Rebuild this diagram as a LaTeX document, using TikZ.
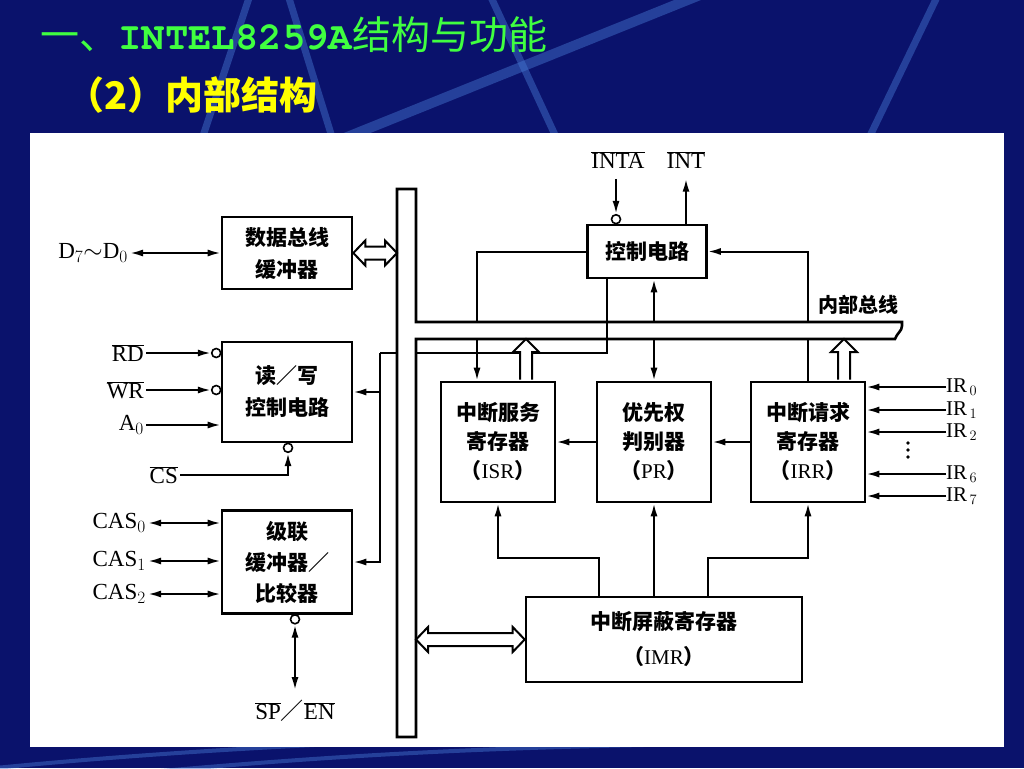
\documentclass[tikz,border=0pt]{standalone}
\usepackage{fontspec}
\setmainfont{Liberation Serif}
\newfontfamily\cjk{Noto Sans CJK SC}
\newfontfamily\mono{texgyrecursor-bold.otf}
\usepackage{xcolor}
\usetikzlibrary{arrows.meta,calc}
\definecolor{slidebg}{RGB}{10,18,108}
\definecolor{stripe}{RGB}{70,120,210}
\definecolor{titlegreen}{RGB}{64,255,64}
\definecolor{titleyellow}{RGB}{255,255,0}
\newcommand{\ovl}[1]{$\overline{\mbox{#1}}$}
% hollow double arrow between two points of one row
\newcommand{\hollowlr}[2]{%
  \draw[hollow] let \p1=(#1), \p2=(#2) in
    (\x1,\y1) -- (\x1+12pt,\y1+12.5pt) -- (\x1+12pt,\y1+6.5pt) -- (\x2-12pt,\y2+6.5pt)
    -- (\x2-12pt,\y2+12.5pt) -- (\x2,\y2) -- (\x2-12pt,\y2-12.5pt) -- (\x2-12pt,\y2-6.5pt)
    -- (\x1+12pt,\y1-6.5pt) -- (\x1+12pt,\y1-12.5pt) -- cycle;}
% hollow arrow from a base up to a tip
\newcommand{\hollowup}[2]{%
  \draw[hollow] let \p1=(#1), \p2=(#2) in
    (\x1-6pt,\y1) -- (\x1-6pt,\y2-13pt) -- (\x1-13pt,\y2-13pt) -- (\x2,\y2)
    -- (\x1+13pt,\y2-13pt) -- (\x1+6pt,\y2-13pt) -- (\x1+6pt,\y1);}

\begin{document}
\begin{tikzpicture}[x=1pt,y=-1pt,
    >={Latex[length=13pt,width=7pt]},
    blk/.style={draw,line width=2.6pt,inner sep=0pt,align=center,
      font={\cjk\bfseries\fontsize{21}{32}\selectfont}},
    lbl/.style={inner sep=2pt,font={\fontsize{23}{27}\selectfont}},
    sig/.style={line width=2pt},
    inv/.style={circle,draw,line width=1.6pt,fill=white,minimum size=9pt,inner sep=0pt},
    hollow/.style={draw,line width=2pt,fill=white,line join=miter},
    bus/.style={line width=2.6pt},
    streak/.style={draw=stripe,line width=7pt,opacity=0.45}]
    \useasboundingbox (0,0) rectangle (1024,768);
    % slide
    \fill[slidebg] (0,0) rectangle (1024,768);
    \draw[streak] (200,145) -- (250,-5);
    \draw[streak] (288,-5) -- (336,150);
    \draw[streak,line width=10pt] (290,160) -- (700,-5);
    \draw[streak] (490,-5) -- (562,150);
    \draw[streak] (868,140) -- (938,-5);
    \draw[streak,line width=4pt] (-5,768) .. controls (200,748) and (400,740) .. (560,736);
    \draw[streak,line width=4pt] (150,772) .. controls (350,754) and (500,747) .. (700,744);
    \fill[white] (30,133) rectangle (1004,747);
    \node[anchor=west,text=titlegreen,inner sep=0pt,font={\fontsize{39}{44}\selectfont}]
      (title) at (40,35) {{\cjk 一、}{\mono INTEL8259A}{\cjk 结构与功能}};
    \node[anchor=west,text=titleyellow,inner sep=0pt,font={\cjk\bfseries\fontsize{38}{44}\selectfont}]
      (subtitle) at (66,95) {（2）内部结构};

    % blocks
    \node[blk,minimum width=130pt,minimum height=72pt] (data) at (287,253) {数据总线\\缓冲器};
    \node[blk,minimum width=130pt,minimum height=100pt] (rw) at (287,392) {读／写\\控制电路};
    \node[blk,minimum width=130pt,minimum height=103pt] (cas) at (287,562) {级联\\[-1pt]缓冲器／\\[-1pt]比较器};
    \node[blk,minimum width=119pt,minimum height=53pt] (ctrl) at (647,251.5) {控制电路};
    \node[blk,minimum width=114pt,minimum height=120pt] (isr) at (498,442) {中断服务\\[-3pt]寄存器\\[-3pt]（{\rmfamily\mdseries ISR}）};
    \node[blk,minimum width=114pt,minimum height=120pt] (pr) at (654,442) {优先权\\[-3pt]判别器\\[-3pt]（{\rmfamily\mdseries PR}）};
    \node[blk,minimum width=114pt,minimum height=120pt] (irr) at (808,442) {中断请求\\[-3pt]寄存器\\[-3pt]（{\rmfamily\mdseries IRR}）};
    \node[blk,minimum width=276pt,minimum height=85pt] (imr) at (664,639.5) {中断屏蔽寄存器\\[3pt]（{\rmfamily\mdseries IMR}）};

    % buses
    \coordinate (ibT) at (416,322);
    \coordinate (ibB) at (416,339);
    \draw[bus] (ibT) -- (416,189) -- (397,189) -- (397,737) -- (416,737) -- (ibB) -- (895,339)
      .. controls (897,333) and (902,331) .. (902,326) -- (902,322) -- cycle;
    \node[inner sep=0pt,font={\cjk\bfseries\fontsize{20}{24}\selectfont}] (iblabel) at (858,305) {内部总线};
    \coordinate (busWd) at (397,253);
    \coordinate (busWa) at (397,353);
    \coordinate (busEa) at (416,353);
    \coordinate (busEm) at (416,639.5);

    % left side
    \node[lbl,anchor=east] (d70) at (130,253) {D$_7{\sim}$D$_0$};
    \draw[sig,<->] (d70.east) -- (data.west);
    \hollowlr{data.east}{busWd}
    \node[lbl,anchor=east] (rd) at (146,353) {\ovl{RD}};
    \node[lbl,anchor=east] (wr) at (146,390) {\ovl{WR}};
    \node[lbl,anchor=east] (a0) at (146,425) {A$_0$};
    \node[inv] (rdinv) at ($(rw.west |- rd.east)+(-4.5,0)$) {};
    \node[inv] (wrinv) at ($(rw.west |- wr.east)+(-4.5,0)$) {};
    \draw[sig,->] (rd.east) -- (rdinv.west);
    \draw[sig,->] (wr.east) -- (wrinv.west);
    \draw[sig,->] (a0.east) -- (a0.east -| rw.west);
    \node[lbl,anchor=east] (cs) at (180,475) {\ovl{CS}};
    \node[inv] (csinv) at ($(rw.south)+(1,4.5)$) {};
    \draw[sig,->] (cs.east) -| (csinv.south);
    \coordinate (tapA) at (380,353);
    \draw[sig] (busWa) -- (tapA);
    \draw[sig,->] (tapA) |- (cas.east);
    \draw[sig,->] (tapA |- rw.east) -- (rw.east);
    \foreach \i/\y in {0/523,1/561,2/594} {
      \node[lbl,anchor=east] (cas\i) at (148,\y) {CAS$_\i$};
      \draw[sig,<->] (cas\i.east) -- (cas\i.east -| cas.west);
    }
    \node[inv] (casinv) at ($(cas.south)+(8,4.5)$) {};
    \node[lbl] (spen) at (295,711) {\ovl{SP}{\cjk ／}\ovl{EN}};
    \draw[sig,<->,shorten >=8pt] (casinv.south) -- (spen.north);

    % control circuit
    \node[lbl] (inta) at (618,160) {\ovl{INTA}};
    \node[lbl] (int) at (686,160) {\ovl{INT}};
    \node[inv] (intainv) at ($(ctrl.north)+(-31,-4.5)$) {};
    \draw[sig,->,shorten <=8pt] (inta.south -| intainv) -- (intainv.north);
    \draw[sig,->,shorten >=8pt] (ctrl.north -| int) -- (int.south);
    \coordinate (isrT) at (477,322);
    \coordinate (isrB) at (477,339);
    \draw[sig] (ctrl.west) -| (isrT);
    \draw[sig,->] (isrB) -- (isrB |- isr.north);
    \coordinate (ctlB) at (607,353);
    \draw[sig] (ctlB |- ctrl.south) -- (ctlB) -- (busEa);
    \draw[sig,->] (pr.north |- ibT) -- (pr.north |- ctrl.south);
    \draw[sig,->] (pr.north |- ibB) -- (pr.north);
    \draw[sig,->] (irr.north |- ibT) |- (ctrl.east);
    \draw[sig] (irr.north |- ibB) -- (irr.north);
    \coordinate (isrUp) at ($(isr.north)+(28,-1)$);
    \coordinate (irrUp) at ($(irr.north)+(36,-1)$);
    \hollowup{isrUp}{isrUp |- ibB}
    \hollowup{irrUp}{irrUp |- ibB}

    % registers
    \draw[sig,->] (pr.west) -- (isr.east);
    \draw[sig,->] (irr.west) -- (pr.east);
    \foreach \i/\y in {0/387,1/410,2/432,6/474,7/496} {
      \node[lbl,anchor=west,inner sep=0pt,font={\fontsize{21}{25}\selectfont}] (ir\i) at (946,\y) {IR$_{\,\i}$};
      \draw[sig,->] (ir\i.west) -- (ir\i.west -| irr.east);
    }
    \foreach \d in {443,450,457} \fill (908,\d) circle (1.8);
    \coordinate (mL) at (599,558);
    \coordinate (mR) at (708,558);
    \draw[sig,->] (mL |- imr.north) -- (mL) -| (isr.south);
    \draw[sig,->] (imr.north -| pr.south) -- (pr.south);
    \draw[sig,->] (mR |- imr.north) -- (mR) -| (irr.south);
    \hollowlr{busEm}{imr.west}
\end{tikzpicture}
\end{document}
